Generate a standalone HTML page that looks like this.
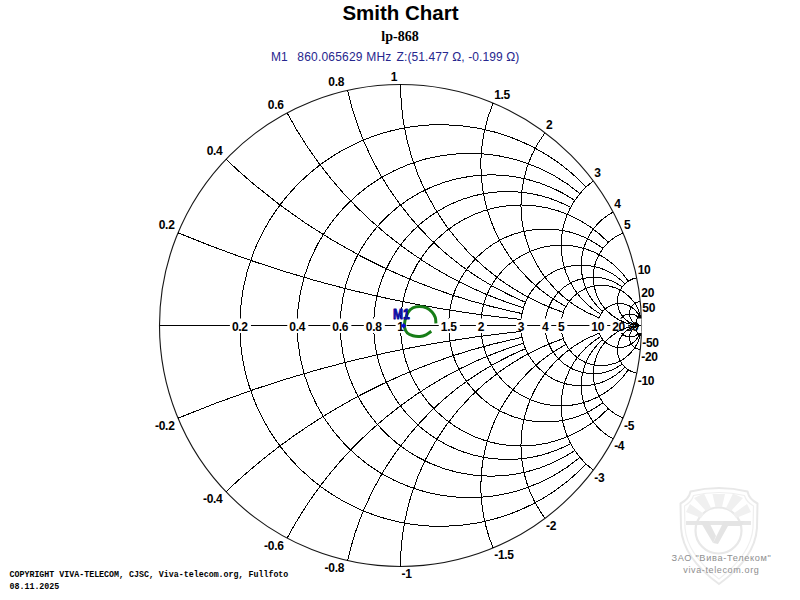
<!DOCTYPE html>
<html><head><meta charset="utf-8"><title>Smith Chart</title>
<style>
html,body{margin:0;padding:0;background:#fff;width:800px;height:600px;overflow:hidden}
svg{display:block}
.t{font-family:"Liberation Sans",Arial,sans-serif}
.lb{font-family:"Liberation Sans",Arial,sans-serif;font-weight:bold;font-size:12px;letter-spacing:-0.3px;fill:#000}
</style></head><body>
<svg width="800" height="600" viewBox="0 0 800 600">
<g id="wm" fill="none" stroke="#e8e8e8" stroke-width="2">
<path d="M690.5,491.5 Q719,484.5 747.5,491.5 Q749,499 757.5,503.5 L757,528 Q755,558 719,584 Q683,558 681,528 L680.5,503.5 Q689,499 690.5,491.5 Z"/>
<path d="M693.5,495.5 Q719,489.5 744.5,495.5 Q746,501.5 753.5,506 L753,528 Q751,554 719,579 Q687,554 685,528 L684.5,506 Q692,501.5 693.5,495.5 Z" stroke-width="1.2" stroke="#efefef"/>
<circle cx="718.5" cy="530.5" r="23" stroke-width="2.2"/>
<g fill="#f0f0f0" stroke="none">
<path d="M712.5,494 L725,494 L722,507 L715.5,507 Z"/>
<path d="M694,498 L704,493.5 L711,508 L706,511 Z"/>
<path d="M743,498 L733,493.5 L726,508 L731,511 Z"/>
<path d="M686,512 L690,504 L704,514 L701,518 Z"/>
<path d="M751,512 L747,504 L733,514 L736,518 Z"/>
</g>
<path d="M686,523 H751" stroke-width="4.2" stroke="#e6e6e6"/>
<g fill="#e4e4e4" stroke="none">
<path d="M700,521 L708.5,521 L716,536 L713,543 Z"/>
<path d="M724,521 L745,521 L741,526 L728,526 L718,544 L713,543 Z"/>
</g>
</g>
<text x="400.5" y="19.5" text-anchor="middle" class="t" font-weight="bold" font-size="20.5" fill="#000">Smith Chart</text>
<text x="400" y="40.6" text-anchor="middle" font-family="'Liberation Serif','Times New Roman',serif" font-weight="bold" font-size="14" fill="#000">lp-868</text>
<text y="61" class="t" font-size="12" fill="#26268e"><tspan x="271">M1</tspan><tspan x="297.3" letter-spacing="0.2">860.065629 MHz</tspan><tspan x="396.6" letter-spacing="0.1">Z:(51.477 Ω, -0.199 Ω)</tspan></text>
<circle cx="400.5" cy="325.5" r="241.0" fill="none" stroke="#151515" stroke-width="1.1"/><g fill="none" stroke="#000" stroke-width="1" shape-rendering="crispEdges"><line x1="159.5" y1="325.5" x2="641.5" y2="325.5"/><path d="M586.10,186.99 A200.83,200.83 0 1 0 586.10,464.01"/><path d="M579.93,193.57 A172.14,172.14 0 1 0 579.93,457.43"/><path d="M574.79,200.41 A150.62,150.62 0 1 0 574.79,450.59"/><path d="M570.62,207.36 A133.89,133.89 0 1 0 570.62,443.64"/><path d="M608.26,242.40 A120.50,120.50 0 1 0 608.26,408.60"/><path d="M602.94,248.38 A96.40,96.40 0 1 0 602.94,402.62"/><path d="M628.23,281.28 A80.33,80.33 0 1 0 628.23,369.72"/><path d="M624.88,283.95 A60.25,60.25 0 1 0 624.88,367.05"/><path d="M622.22,286.94 A48.20,48.20 0 1 0 622.22,364.06"/><circle cx="601.33" cy="325.50" r="40.17"/><circle cx="619.59" cy="325.50" r="21.91"/><circle cx="630.02" cy="325.50" r="11.48"/><circle cx="636.77" cy="325.50" r="4.73"/></g>
<g class="lb"><rect x="623.78" y="318.5" width="17.74" height="14.5" fill="#fff"/><text x="632.05" y="330.5" text-anchor="middle">50</text><rect x="610.28" y="318.5" width="17.74" height="14.5" fill="#fff"/><text x="618.55" y="330.5" text-anchor="middle">20</text><rect x="589.41" y="318.5" width="17.74" height="14.5" fill="#fff"/><text x="597.68" y="330.5" text-anchor="middle">10</text><rect x="556.23" y="318.5" width="11.07" height="14.5" fill="#fff"/><text x="561.17" y="330.5" text-anchor="middle">5</text><rect x="540.17" y="318.5" width="11.07" height="14.5" fill="#fff"/><text x="545.10" y="330.5" text-anchor="middle">4</text><rect x="516.07" y="318.5" width="11.07" height="14.5" fill="#fff"/><text x="521.00" y="330.5" text-anchor="middle">3</text><rect x="475.90" y="318.5" width="11.07" height="14.5" fill="#fff"/><text x="480.83" y="330.5" text-anchor="middle">2</text><rect x="438.76" y="318.5" width="21.07" height="14.5" fill="#fff"/><text x="448.70" y="330.5" text-anchor="middle">1.5</text><rect x="395.56" y="318.5" width="11.07" height="14.5" fill="#fff"/><text x="400.50" y="330.5" text-anchor="middle">1</text><rect x="363.79" y="318.5" width="21.07" height="14.5" fill="#fff"/><text x="373.72" y="330.5" text-anchor="middle">0.8</text><rect x="330.31" y="318.5" width="21.07" height="14.5" fill="#fff"/><text x="340.25" y="330.5" text-anchor="middle">0.6</text><rect x="287.28" y="318.5" width="21.07" height="14.5" fill="#fff"/><text x="297.21" y="330.5" text-anchor="middle">0.4</text><rect x="229.90" y="318.5" width="21.07" height="14.5" fill="#fff"/><text x="239.83" y="330.5" text-anchor="middle">0.2</text></g>
<g fill="none" stroke="#000" stroke-width="1" shape-rendering="crispEdges"><path d="M178.04,232.81 A1205.00,1205.00 0 0 0 521.30,319.49"/><path d="M178.04,418.19 A1205.00,1205.00 0 0 1 521.30,331.51"/><path d="M225.98,159.29 A602.50,602.50 0 0 0 522.19,313.57"/><path d="M225.98,491.71 A602.50,602.50 0 0 1 522.19,337.43"/><path d="M287.09,112.85 A401.67,401.67 0 0 0 523.65,307.82"/><path d="M287.09,538.15 A401.67,401.67 0 0 1 523.65,343.18"/><path d="M347.60,90.38 A301.25,301.25 0 0 0 525.63,302.33"/><path d="M347.60,560.62 A301.25,301.25 0 0 1 525.63,348.67"/><path d="M400.50,84.50 A241.00,241.00 0 0 0 563.34,312.47"/><path d="M400.50,566.50 A241.00,241.00 0 0 1 563.34,338.53"/><path d="M493.19,103.04 A160.67,160.67 0 0 0 565.89,306.60"/><path d="M493.19,547.96 A160.67,160.67 0 0 1 565.89,344.40"/><path d="M545.10,132.70 A120.50,120.50 0 0 0 599.08,317.79"/><path d="M545.10,518.30 A120.50,120.50 0 0 1 599.08,333.21"/><path d="M593.30,180.90 A80.33,80.33 0 0 0 600.72,314.38"/><path d="M593.30,470.10 A80.33,80.33 0 0 1 600.72,336.62"/><path d="M613.15,212.09 A60.25,60.25 0 0 0 602.80,311.43"/><path d="M613.15,438.91 A60.25,60.25 0 0 1 602.80,339.57"/><path d="M622.96,232.81 A48.20,48.20 0 0 0 641.50,325.50"/><path d="M622.96,418.19 A48.20,48.20 0 0 1 641.50,325.50"/><path d="M636.73,277.78 A24.10,24.10 0 0 0 641.50,325.50"/><path d="M636.73,373.22 A24.10,24.10 0 0 1 641.50,325.50"/><path d="M640.30,301.46 A12.05,12.05 0 0 0 641.50,325.50"/><path d="M640.30,349.54 A12.05,12.05 0 0 1 641.50,325.50"/><path d="M641.31,315.86 A4.82,4.82 0 0 0 641.50,325.50"/><path d="M641.31,335.14 A4.82,4.82 0 0 1 641.50,325.50"/></g>
<g class="lb"><text x="174.54" y="228.81" text-anchor="end">0.2</text><text x="174.54" y="429.59" text-anchor="end">-0.2</text><text x="222.48" y="155.29" text-anchor="end">0.4</text><text x="222.48" y="503.11" text-anchor="end">-0.4</text><text x="283.59" y="108.85" text-anchor="end">0.6</text><text x="283.59" y="549.55" text-anchor="end">-0.6</text><text x="344.10" y="86.38" text-anchor="end">0.8</text><text x="344.10" y="572.02" text-anchor="end">-0.8</text><text x="397.00" y="80.50" text-anchor="end">1</text><text x="401.50" y="577.90">-1</text><text x="494.19" y="99.04">1.5</text><text x="494.19" y="559.36">-1.5</text><text x="546.10" y="128.70">2</text><text x="546.10" y="529.70">-2</text><text x="594.30" y="176.90">3</text><text x="594.30" y="481.50">-3</text><text x="614.15" y="208.09">4</text><text x="614.15" y="450.31">-4</text><text x="623.96" y="228.81">5</text><text x="623.96" y="429.59">-5</text><text x="637.73" y="273.78">10</text><text x="637.73" y="384.62">-10</text><text x="641.30" y="297.46">20</text><text x="641.30" y="360.94">-20</text><text x="642.31" y="311.86">50</text><text x="642.31" y="346.54">-50</text></g>
<path d="M431.3,331.3 C430.42,331.88 427.88,333.95 426,334.8 C424.12,335.65 422.17,336.23 420,336.4 C417.83,336.57 415.12,336.37 413,335.8 C410.88,335.23 408.70,334.38 407.3,333 C405.90,331.62 404.98,329.58 404.6,327.5 C404.22,325.42 404.43,323.00 405,320.5 C405.57,318.00 406.67,314.62 408,312.5 C409.33,310.38 411.08,308.82 413,307.8 C414.92,306.78 417.25,306.40 419.5,306.4 C421.75,306.40 424.42,306.87 426.5,307.8 C428.58,308.73 430.53,310.38 432,312 C433.47,313.62 434.65,315.62 435.3,317.5 C435.95,319.38 435.80,322.33 435.9,323.3" fill="none" stroke="#177d17" stroke-width="3" stroke-linecap="butt"/>
<path d="M403.6,323 L406.2,325.8 L403.6,328.6 L401,325.8 Z" fill="#0a0ad0"/>
<text x="401.4" y="319.3" text-anchor="middle" class="t" font-weight="bold" font-size="15.5" fill="#1212cc" stroke="#08088c" stroke-width="0.9" stroke-linejoin="round" transform="translate(401.4,0) scale(0.78,1) translate(-401.4,0)">M1</text>
<text font-family="'Liberation Mono',monospace" font-weight="bold" font-size="8.3" fill="#000"><tspan x="9.5" y="577">COPYRIGHT VIVA-TELECOM, CJSC, Viva-telecom.org, Fullfoto</tspan><tspan x="9.5" y="588.7">08.11.2025</tspan></text>
<text class="t" font-size="9.2" fill="#8e8e8e" letter-spacing="0.68"><tspan x="671.5" y="561.2">ЗАО "Вива-Телеком"</tspan></text>
<text class="t" font-size="9" fill="#8e8e8e" letter-spacing="0.63"><tspan x="683.3" y="572.9">viva-telecom.org</tspan></text>
</svg>
</body></html>
